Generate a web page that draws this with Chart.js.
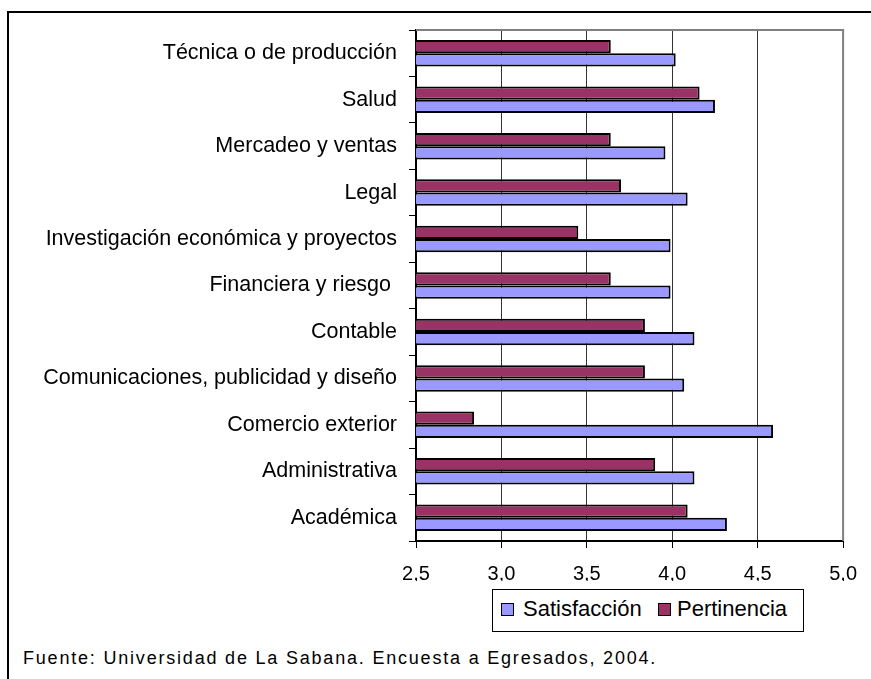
<!DOCTYPE html>
<html>
<head>
<meta charset="utf-8">
<title>Satisfacción y pertinencia por área</title>
<script src="https://cdn.jsdelivr.net/npm/chart.js@4.4.1/dist/chart.umd.min.js"></script>
<style>
	body {
		margin: 0;
		background: #fff;
		font-family: "Liberation Sans", Arial, sans-serif;
	}
	#page {
		position: relative;
		width: 871px;
		height: 679px;
		overflow: hidden;
	}
	#frame {
		position: absolute;
		left: 7px;
		top: 11px;
		width: 950px;
		height: 750px;
		border: 2px solid #000;
	}
	#areaChart {
		position: absolute;
		left: 0;
		top: 0;
	}
	#legend {
		position: absolute;
		left: 492px;
		top: 589px;
		width: 310px;
		height: 41px;
		border: 1px solid #000;
		background: #fff;
	}
	.box {
		position: absolute;
		top: 13px;
		width: 11px;
		height: 11px;
		border: 1px solid #000;
	}
	.lbl {
		position: absolute;
		top: 8px;
		font-size: 22px;
		line-height: 22px;
		color: #000;
		white-space: nowrap;
	}
	#source {
		position: absolute;
		left: 23px;
		top: 649px;
		font-size: 18px;
		line-height: 18px;
		letter-spacing: 1.8px;
		color: #000;
		white-space: nowrap;
	}
</style>
</head>
<body>
<div id="page">
	<div id="frame"></div>
	<canvas id="areaChart" width="871" height="581"></canvas>
	<div id="legend">
		<span class="box" style="left:8px;background:#9999ff"></span>
		<span class="lbl" style="left:30px">Satisfacción</span>
		<span class="box" style="left:165px;background:#993366"></span>
		<span class="lbl" style="left:184px">Pertinencia</span>
	</div>
	<div id="source">Fuente: Universidad de La Sabana. Encuesta a Egresados, 2004.</div>
</div>
<script>
	// data
	var areas = [
		"Técnica o de producción",
		"Salud",
		"Mercadeo y ventas",
		"Legal",
		"Investigación económica y proyectos",
		"Financiera y riesgo ",
		"Contable",
		"Comunicaciones, publicidad y diseño",
		"Comercio exterior",
		"Administrativa",
		"Académica",
	];
	var pertinencia = [3.64, 4.16, 3.64, 3.70, 3.45, 3.64, 3.84, 3.84, 2.84, 3.90, 4.09];
	var satisfaccion = [4.02, 4.25, 3.96, 4.09, 3.99, 3.99, 4.13, 4.07, 4.59, 4.13, 4.32];
	var xTicks = [2.5, 3.0, 3.5, 4.0, 4.5, 5.0];

	var font = "'Liberation Sans', Arial, sans-serif";

	// gray plot area border (top + right)
	var plotBorder = {
		id: "plotBorder",
		afterDraw: function (chart) {
			var a = chart.chartArea;
			var ctx = chart.ctx;
			ctx.save();
			ctx.strokeStyle = "#808080";
			ctx.lineWidth = 2;
			ctx.beginPath();
			ctx.moveTo(a.left, a.top);
			ctx.lineTo(a.right, a.top);
			ctx.lineTo(a.right, a.bottom);
			ctx.stroke();
			ctx.restore();
		},
	};

	function initChart() {
		var chart = new Chart(document.getElementById("areaChart"), {
			type: "bar",
			data: {
				labels: areas,
				datasets: [
					{
						label: "Pertinencia",
						data: pertinencia,
						backgroundColor: "#993366",
						borderColor: "#000",
						borderWidth: 2,
						borderSkipped: false,
					},
					{
						label: "Satisfacción",
						data: satisfaccion,
						backgroundColor: "#9999ff",
						borderColor: "#000",
						borderWidth: 2,
						borderSkipped: false,
					},
				],
			},
			options: {
				indexAxis: "y",
				responsive: false,
				animation: false,
				categoryPercentage: 0.57,
				barPercentage: 1.0,
				layout: {
					padding: { top: 30, right: 25, bottom: 0, left: 0 },
				},
				plugins: {
					legend: { display: false },
					tooltip: { enabled: false },
				},
				scales: {
					x: {
						type: "linear",
						min: xTicks[0],
						max: xTicks[xTicks.length - 1],
						afterBuildTicks: function (scale) {
							scale.ticks = xTicks.map(function (v) {
								return { value: v };
							});
						},
						afterFit: function (scale) {
							scale.height = 40;
						},
						ticks: {
							color: "#000",
							font: { family: font, size: 20 },
							padding: 14,
							maxRotation: 0,
							callback: function (v) {
								return v.toFixed(1).replace(".", ",");
							},
						},
						grid: {
							color: function (c) {
								return c.index === xTicks.length - 1 ? "rgba(0,0,0,0)" : "#333";
							},
							tickColor: "#000",
							tickLength: 7,
							lineWidth: 1,
						},
						border: { color: "#000", width: 2 },
					},
					y: {
						afterFit: function (scale) {
							scale.width = 416;
						},
						ticks: {
							color: "#000",
							font: { family: font, size: 21.5 },
							padding: 12,
							autoSkip: false,
						},
						grid: {
							drawOnChartArea: false,
							offset: true,
							color: "#000",
							tickLength: 7,
						},
						border: { color: "#000", width: 2 },
					},
				},
			},
			plugins: [plotBorder],
		});
		return chart;
	}

	initChart();
</script>
</body>
</html>
